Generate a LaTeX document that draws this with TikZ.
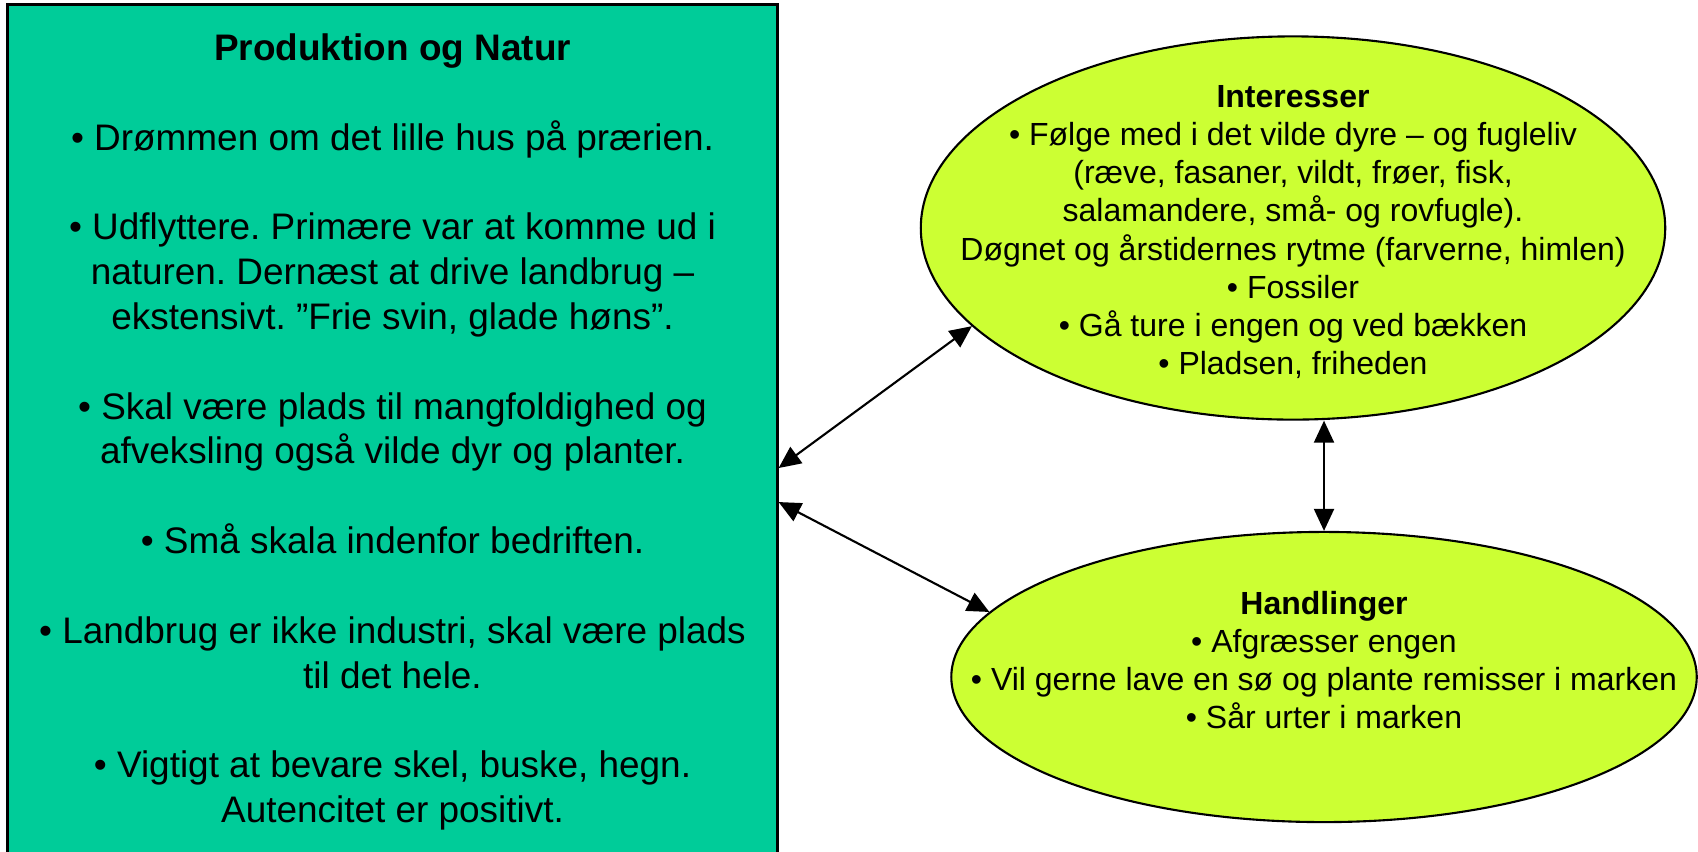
\documentclass[tikz,border=0pt]{standalone}
\usepackage{fontspec}
\setmainfont{Liberation Sans}
\usetikzlibrary{positioning, shapes.geometric, arrows.meta}
\definecolor{prodgreen}{RGB}{0,204,153}
\definecolor{limeblob}{RGB}{204,255,51}
\frenchspacing

\begin{document}
\begin{tikzpicture}[x=0.01cm, y=-0.01cm, >={Triangle[length=2.2mm, width=2mm]},
    box/.style={draw=black, line width=0.8pt, fill=prodgreen, minimum width=7.69cm, minimum height=8.54cm, align=center, font=\fontsize{10.5}{12.75}\selectfont},
    blob/.style={ellipse, draw=black, line width=0.6pt, fill=limeblob, inner sep=0pt},
    blobtext/.style={align=center, font=\fontsize{9.1}{10.85}\selectfont},
    link/.style={<->, line width=0.6pt}]
    \useasboundingbox (0,0) rectangle (1698,851);
    \node[box] (prod) at (392.5,432) {\textbf{Produktion og Natur}\\[12.75pt]
        • Drømmen om det lille hus på prærien.\\[12.75pt]
        • Udflyttere. Primære var at komme ud i\\
        naturen. Dernæst at drive landbrug –\\
        ekstensivt. ”Frie svin, glade høns”.\\[12.75pt]
        • Skal være plads til mangfoldighed og\\
        afveksling også vilde dyr og planter.\\[12.75pt]
        • Små skala indenfor bedriften.\\[12.75pt]
        • Landbrug er ikke industri, skal være plads\\
        til det hele.\\[12.75pt]
        • Vigtigt at bevare skel, buske, hegn.\\
        Autencitet er positivt.};
    \node[blob, minimum width=7.44cm, minimum height=3.83cm] (int) at (1293,228) {};
    \node[blobtext, below=0.04cm of int.center, anchor=center] (inttext) {\textbf{Interesser}\\
        • Følge med i det vilde dyre – og fugleliv\\
        (ræve, fasaner, vildt, frøer, fisk,\\
        salamandere, små- og rovfugle).\\
        Døgnet og årstidernes rytme (farverne, himlen)\\
        • Fossiler\\
        • Gå ture i engen og ved bækken\\
        • Pladsen, friheden};
    \node[blob, minimum width=7.45cm, minimum height=2.9cm] (hand) at (1324,677) {};
    \node[blobtext, above=0.17cm of hand.center, anchor=center] (handtext) {\textbf{Handlinger}\\
        • Afgræsser engen\\
        • Vil gerne lave en sø og plante remisser i marken\\
        • Sår urter i marken};
    \draw[link] ([yshift=-0.36cm]prod.east) -- (int.197);
    \draw[link] ([yshift=-0.70cm]prod.east) -- (hand.169);
    \draw[link] (hand.north |- int.south) -- (hand.north);
\end{tikzpicture}
\end{document}
